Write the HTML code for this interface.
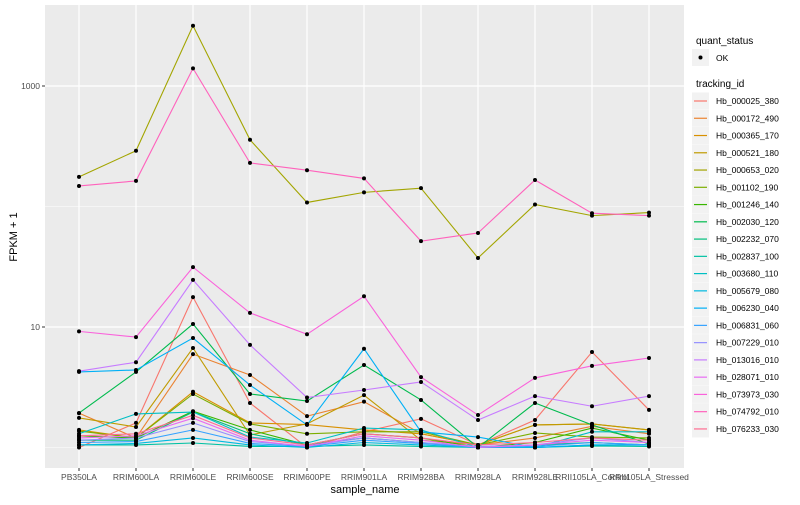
<!DOCTYPE html>
<html><head><meta charset="utf-8"><style>
body{margin:0;background:#fff;font-family:"Liberation Sans",sans-serif}
svg text{font-family:"Liberation Sans",sans-serif}
</style></head><body>
<svg id="chart" width="800" height="500" xmlns="http://www.w3.org/2000/svg">
<rect x="0" y="0" width="800" height="500" fill="#fff"/>
<rect x="45" y="5" width="639" height="463" fill="#EBEBEB"/>
<g id="grid"></g><g id="lines"></g><g id="axes"></g><g id="legend"></g>
<text x="365" y="493" font-size="11" text-anchor="middle" fill="#000">sample_name</text>
<text x="17" y="237" font-size="11" text-anchor="middle" fill="#000" transform="rotate(-90 17 237)">FPKM + 1</text>
</svg>
<script>
const categories=["PB350LA","RRIM600LA","RRIM600LE","RRIM600SE","RRIM600PE","RRIM901LA","RRIM928BA","RRIM928LA","RRIM928LE","RRII105LA_Control","RRII105LA_Stressed"];
const seriesNames=["Hb_000025_380","Hb_000172_490","Hb_000365_170","Hb_000521_180","Hb_000653_020","Hb_001102_190","Hb_001246_140","Hb_002030_120","Hb_002232_070","Hb_002837_100","Hb_003680_110","Hb_005679_080","Hb_006230_040","Hb_006831_060","Hb_007229_010","Hb_013016_010","Hb_028071_010","Hb_073973_030","Hb_074792_010","Hb_076233_030"];
const colors=["#F8766D","#EA8331","#D89000","#C09B00","#A3A500","#7CAE00","#39B600","#00BB4E","#00BF7D","#00C1A3","#00BFC4","#00BAE0","#00B0F6","#35A2FF","#9590FF","#C77CFF","#E76BF3","#FA62DB","#FF62BC","#FF6C91"];
const s0=[1.0,1.6,17.7,2.34,1.0,1.35,1.73,1.05,1.69,6.2,2.05];
const s1=[1.93,1.2,5.95,4.0,1.82,2.4,1.3,1.05,1.2,1.5,1.3];
const s2=[1.4,1.2,2.9,1.6,1.55,1.4,1.3,1.05,1.54,1.57,1.4];
const s3=[1.76,1.48,6.7,1.27,1.57,2.72,1.15,1.05,1.54,1.57,1.4];
const s4=[176,290,3160,358,108,131,142,37.4,104,84,89];
const s5=[1.37,1.2,2.78,1.57,1.3,1.35,1.35,1.05,1.32,1.22,1.2];
const s6=[1.25,1.2,2.0,1.4,1.05,1.3,1.2,1.0,1.1,1.45,1.15];
const s7=[1.93,4.24,10.6,2.78,2.43,4.84,2.48,1.0,2.34,1.54,1.07];
const s8=[1.15,1.15,1.97,1.3,1.05,1.2,1.1,1.0,1.05,1.1,1.05];
const s9=[1.05,1.05,1.09,1.02,1.02,1.05,1.02,1.0,1.0,1.03,1.02];
const s10=[1.3,1.9,1.97,1.22,1.09,1.45,1.4,1.0,1.0,1.35,1.35];
const s11=[1.05,1.08,1.2,1.05,1.0,1.1,1.05,1.0,1.0,1.05,1.05];
const s12=[4.24,4.4,8.1,3.3,1.54,6.6,1.35,1.22,1.0,1.05,1.05];
const s13=[1.1,1.12,1.4,1.08,1.02,1.15,1.08,1.0,1.02,1.1,1.05];
const s14=[1.15,1.2,1.6,1.12,1.03,1.2,1.1,1.02,1.05,1.2,1.1];
const s15=[4.3,5.1,24.6,7.1,2.6,3.0,3.5,1.69,2.67,2.2,2.67];
const s16=[1.2,1.25,1.75,1.15,1.02,1.25,1.15,1.0,1.05,1.15,1.1];
const s17=[9.2,8.25,31.4,13.1,8.7,18.0,3.84,1.86,3.78,4.76,5.53];
const s18=[148,163,1400,230,200,171,51.6,60.3,166,88,84];
const s19=[1.25,1.3,1.85,1.2,1.05,1.3,1.2,1.05,1.1,1.2,1.15];
const series=[s0,s1,s2,s3,s4,s5,s6,s7,s8,s9,s10,s11,s12,s13,s14,s15,s16,s17,s18,s19];
const yMajor=[10,1000], yMinor=[1,100], yLabels=["10","1000"];

const NS="http://www.w3.org/2000/svg";
function X(i){return 79+i*57;}
function Y(v){return 447.5-Math.log10(v)*120.5;}
function mk(tag,attrs,parent){const e=document.createElementNS(NS,tag);for(const k in attrs)e.setAttribute(k,attrs[k]);parent.appendChild(e);return e;}
const grid=document.getElementById('grid'),lines=document.getElementById('lines'),axes=document.getElementById('axes'),legend=document.getElementById('legend');
yMinor.forEach(v=>{const l=mk('line',{x1:45,x2:684,y1:Y(v),y2:Y(v),stroke:'#fff','stroke-width':0.6},grid);

});
yMajor.forEach((v,i)=>{const l=mk('line',{x1:45,x2:684,y1:Y(v),y2:Y(v),stroke:'#fff','stroke-width':1.2},grid);


mk('line',{x1:42,x2:45,y1:Y(v),y2:Y(v),stroke:'#333','stroke-width':1},axes);
const t=mk('text',{x:40,y:Y(v)+3,'font-size':8.5,'text-anchor':'end',fill:'#4D4D4D'},axes);t.textContent=yLabels[i];

});
categories.forEach((c,i)=>{const l=mk('line',{x1:X(i),x2:X(i),y1:5,y2:468,stroke:'#fff','stroke-width':1.2},grid);


mk('line',{x1:X(i),x2:X(i),y1:468,y2:471,stroke:'#333','stroke-width':1},axes);
const t=mk('text',{x:X(i),y:480,'font-size':8.5,'text-anchor':'middle',fill:'#4D4D4D'},axes);t.textContent=c;

});
series.forEach((s,k)=>{const p=mk('polyline',{points:s.map((v,i)=>X(i)+','+Y(v)).join(' '),fill:'none',stroke:colors[k],'stroke-width':1.1},lines);

});
series.forEach((s,k)=>{s.forEach((v,i)=>{const c=mk('circle',{cx:X(i),cy:Y(v),r:2,fill:'#000'},lines);

});});
// legend
let t=mk('text',{x:696,y:44,'font-size':10,fill:'#000'},legend);t.textContent='quant_status';


let r=mk('rect',{x:692,y:49,width:17,height:17,fill:'#F2F2F2'},legend);


mk('circle',{cx:700.5,cy:57.5,r:2,fill:'#000'},legend);
t=mk('text',{x:716,y:61,'font-size':8.5,fill:'#000'},legend);t.textContent='OK';


t=mk('text',{x:696,y:87,'font-size':10,fill:'#000'},legend);t.textContent='tracking_id';


seriesNames.forEach((n,k)=>{const y=101+k*17.26;
const b=mk('rect',{x:692,y:y-8.5,width:17,height:17,fill:'#F2F2F2'},legend);


mk('line',{x1:694,x2:707,y1:y,y2:y,stroke:colors[k],'stroke-width':1.2},legend);
const tt=mk('text',{x:716,y:y+3,'font-size':8.5,fill:'#000'},legend);tt.textContent=n;

});
</script>
</body></html>
